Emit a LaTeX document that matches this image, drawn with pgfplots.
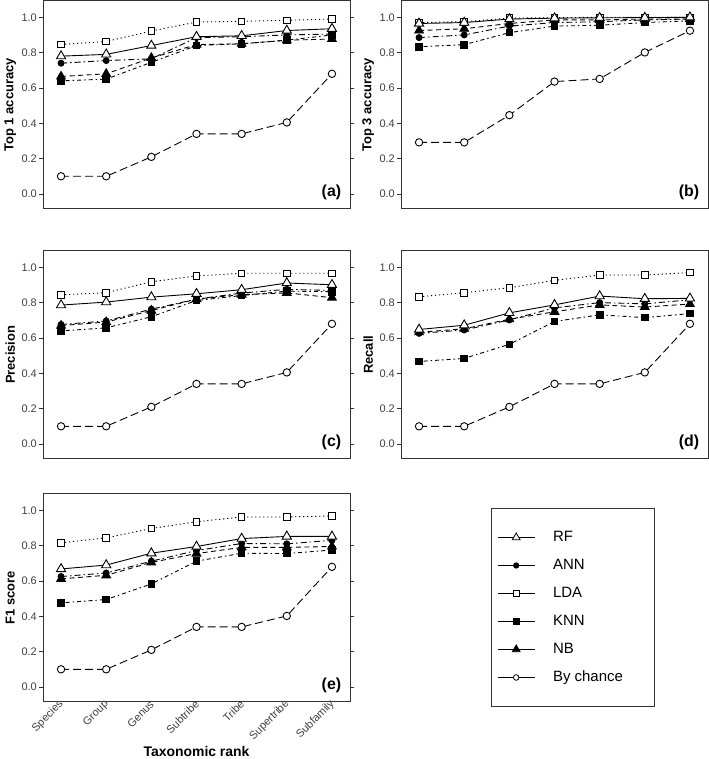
\documentclass[border=0pt]{standalone}
\usepackage{fontspec}
\setmainfont{Liberation Sans}
\usepackage{pgfplots}
\usepackage{pgfplotstable}
\pgfplotsset{compat=1.18}

\pgfplotstableread{
x RF ANN LDA KNN NB Ch
0 0.78 0.74 0.846 0.64 0.665 0.10
1 0.79 0.755 0.863 0.65 0.68 0.10
2 0.84 0.765 0.922 0.745 0.77 0.21
3 0.89 0.885 0.973 0.84 0.845 0.34
4 0.895 0.89 0.977 0.85 0.85 0.34
5 0.925 0.90 0.983 0.87 0.87 0.405
6 0.935 0.905 0.99 0.90 0.877 0.68
}\tA
\pgfplotstableread{
x RF ANN LDA KNN NB Ch
0 0.965 0.885 0.97 0.833 0.925 0.292
1 0.97 0.90 0.975 0.845 0.935 0.292
2 0.99 0.95 0.995 0.913 0.965 0.446
3 0.995 0.97 0.998 0.95 0.985 0.636
4 0.997 0.975 1.0 0.955 0.985 0.651
5 0.998 0.985 1.0 0.97 0.99 0.801
6 1.0 0.99 1.0 0.98 0.99 0.924
}\tB
\pgfplotstableread{
x RF ANN LDA KNN NB Ch
0 0.786 0.676 0.844 0.64 0.67 0.10
1 0.803 0.696 0.856 0.657 0.69 0.10
2 0.831 0.763 0.918 0.72 0.755 0.21
3 0.85 0.82 0.951 0.812 0.82 0.34
4 0.873 0.854 0.966 0.84 0.845 0.34
5 0.911 0.875 0.966 0.865 0.855 0.405
6 0.901 0.869 0.966 0.862 0.828 0.68
}\tC
\pgfplotstableread{
x RF ANN LDA KNN NB Ch
0 0.648 0.626 0.833 0.467 0.632 0.10
1 0.672 0.645 0.856 0.484 0.652 0.10
2 0.742 0.702 0.884 0.564 0.706 0.21
3 0.787 0.77 0.926 0.693 0.748 0.34
4 0.837 0.80 0.956 0.731 0.787 0.34
5 0.822 0.793 0.956 0.715 0.775 0.405
6 0.824 0.816 0.970 0.738 0.792 0.68
}\tD
\pgfplotstableread{
x RF ANN LDA KNN NB Ch
0 0.668 0.625 0.816 0.476 0.612 0.10
1 0.69 0.645 0.844 0.495 0.632 0.10
2 0.757 0.712 0.897 0.583 0.705 0.21
3 0.795 0.772 0.935 0.712 0.755 0.34
4 0.84 0.812 0.962 0.757 0.79 0.34
5 0.852 0.81 0.962 0.755 0.79 0.402
6 0.852 0.83 0.968 0.775 0.795 0.68
}\tE

\pgfplotsset{
  panel/.style={
    scale only axis, width=307bp, height=208.5bp,
    xmin=-0.4, xmax=6.4, ymin=-0.085, ymax=1.095,
    ytick={0,0.2,0.4,0.6,0.8,1.0},
    xtick=\empty,
    /pgf/number format/assume math mode=true,
    yticklabel={\pgfmathprintnumber[fixed,fixed zerofill,precision=1]{\tick}},
    axis line style={draw=black!80, line width=1bp},
    tick align=outside, major tick length=4bp,
    tick style={draw=black!80, line width=0.8bp},
    ticklabel style={font=\fontsize{11}{12}\selectfont, text=black!75},
    yticklabel style={inner sep=2bp},
    ylabel style={at={(axis description cs:-0.107,0.5)}, anchor=center, font=\bfseries\fontsize{13}{14}\selectfont},
    every axis plot/.append style={line width=0.9bp, black},
  },
  sRF/.style={solid, mark=triangle*, mark options={solid, fill=white}, mark size=5.3bp},
  sANN/.style={dash pattern=on 6bp off 3bp on 1.5bp off 3bp, mark=*, mark options={solid}, mark size=3bp},
  sLDA/.style={dash pattern=on 1.2bp off 2.8bp, mark=square*, mark options={solid, fill=white}, mark size=3.3bp},
  sKNN/.style={dash pattern=on 1.5bp off 3bp on 4bp off 3bp, mark=square*, mark options={solid}, mark size=3.3bp},
  sNB/.style={dash pattern=on 5bp off 3.5bp, mark=triangle*, mark options={solid}, mark size=5bp},
  sCh/.style={dash pattern=on 8bp off 4bp, mark=*, mark options={solid, fill=white}, mark size=3.7bp},
}

\newcommand{\allplots}[1]{%
  \addplot[sCh, forget plot] table[x=x, y=Ch] {#1};
  \addplot[sKNN, forget plot] table[x=x, y=KNN] {#1};
  \addplot[sNB, forget plot] table[x=x, y=NB] {#1};
  \addplot[sANN, forget plot] table[x=x, y=ANN] {#1};
  \addplot[sLDA, forget plot] table[x=x, y=LDA] {#1};
  \addplot[sRF, forget plot] table[x=x, y=RF] {#1};
}
\newcommand{\panellabel}[1]{\node[anchor=base east, inner sep=0pt, font=\bfseries\fontsize{16}{16}\selectfont] at (rel axis cs:0.972,0.06) {#1};}

\begin{document}
\begin{tikzpicture}[x=1bp, y=1bp]
\path[use as bounding box] (0,0) rectangle (709,759);

\begin{axis}[panel, at={(43bp,550bp)}, anchor=south west, ylabel={Top 1 accuracy}]
\allplots{\tA}
\panellabel{(a)}
\end{axis}

\begin{axis}[panel, at={(401bp,550bp)}, anchor=south west, ylabel={Top 3 accuracy}]
\allplots{\tB}
\panellabel{(b)}
\end{axis}

\begin{axis}[panel, at={(43bp,300bp)}, anchor=south west, ylabel={Precision}]
\allplots{\tC}
\panellabel{(c)}
\end{axis}

\begin{axis}[panel, at={(401bp,300bp)}, anchor=south west, ylabel={Recall}]
\allplots{\tD}
\panellabel{(d)}
\end{axis}

\begin{axis}[panel, at={(43bp,57bp)}, anchor=south west, ylabel={F1 score},
  xtick={0,1,2,3,4,5,6},
  xticklabels={Species,Group,Genus,Subtribe,Tribe,Supertribe,Subfamily},
  xtick style={draw=none},
  xticklabel style={rotate=45, anchor=east, inner sep=0pt, xshift=3bp, yshift=2bp},
  xlabel={Taxonomic rank},
  xlabel style={at={(axis description cs:0.5,-0.262)}, anchor=base, font=\bfseries\fontsize{14}{15}\selectfont},
  legend style={at={(axis description cs:1.459,0.930)}, anchor=north west,
    draw=black!80, line width=0.8bp, fill=white,
    font=\fontsize{15}{16}\selectfont,
    inner xsep=6bp, inner ysep=22bp, row sep=14bp, column sep=18bp,
    nodes={inner sep=0pt, text height=11bp, text depth=3bp}},
  legend cell align=left,
  legend image code/.code={\draw[mark repeat=2, mark phase=2, line width=0.8bp, #1] plot coordinates {(0bp,0bp) (18.5bp,0bp) (37bp,0bp)};},
]
\addlegendimage{solid, black, mark=triangle*, mark options={fill=white}, mark size=4.5bp}
\addlegendimage{solid, black, mark=*, mark size=2.7bp}
\addlegendimage{solid, black, mark=square*, mark options={fill=white}, mark size=2.8bp}
\addlegendimage{solid, black, mark=square*, mark size=2.8bp}
\addlegendimage{solid, black, mark=triangle*, mark size=4.5bp}
\addlegendimage{solid, black, mark=*, mark options={fill=white}, mark size=2.8bp}
\allplots{\tE}
\panellabel{(e)}
\legend{RF,ANN,LDA,KNN,NB,By chance\hspace*{25bp}}
\end{axis}

\end{tikzpicture}
\end{document}
